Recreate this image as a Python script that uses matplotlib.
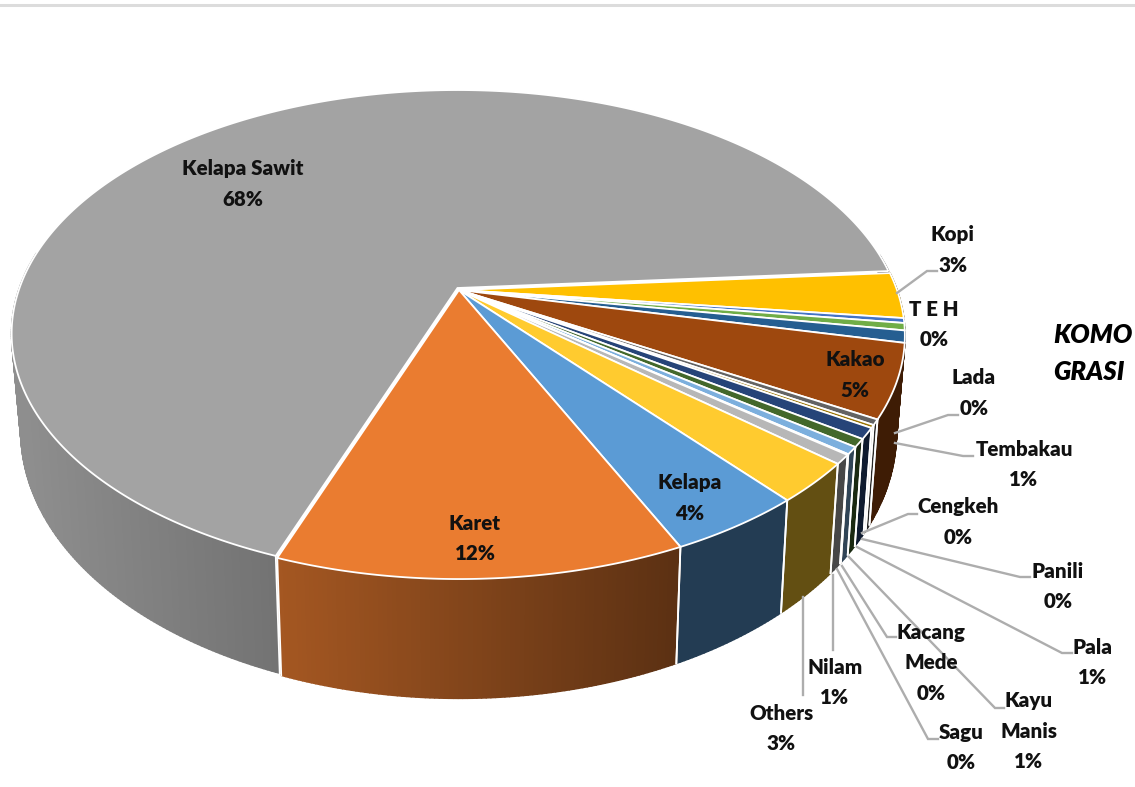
import numpy as np
import matplotlib
matplotlib.use('Agg')
import matplotlib.pyplot as plt
from matplotlib.collections import PolyCollection
from matplotlib.patches import Polygon

# Area share per commodity, clockwise from the big slice
names = ['Kelapa Sawit', 'Kopi', 'T E H', 'Lada', 'Tembakau', 'Kakao', 'Cengkeh', 'Panili',
         'Pala', 'Kayu\nManis', 'Kacang\nMede', 'Sagu', 'Nilam', 'Others', 'Kelapa', 'Karet']
shares = [68.28, 3.03, 0.32, 0.48, 0.80, 4.86, 0.36, 0.19,
          0.72, 0.53, 0.48, 0.05, 0.61, 2.64, 4.20, 12.45]
colors = ['#A3A3A3', '#FFC000', '#4472C4', '#70AD47', '#255E91', '#9E480E', '#636363', '#997300',
          '#264478', '#43682B', '#7CAFDD', '#F1975A', '#B7B7B7', '#FFCB2F', '#5B9BD5', '#EA7C30']

# Label centres (first line) in pixels, same order as names
label_xy = [(243, 169), (953, 235), (934, 309), (974, 378), (1024, 449), (855, 360), (958, 507),
            (1058, 571), (1093, 647), (1029, 701), (931, 632), (961, 732), (835, 667), (781, 713),
            (690, 483), (475, 523)]

# Leader lines, None where the label sits on the slice
leaders = [None,
           [(897, 293), (927, 271), (937, 271)],
           None,
           [(895, 433), (948, 415), (958, 415)],
           [(895, 443), (963, 456), (973, 456)],
           None,
           [(862, 533), (908, 514), (917, 514)],
           [(862, 539), (1020, 577), (1030, 577)],
           [(857, 547), (1062, 653), (1072, 653)],
           [(849, 557), (995, 708), (1004, 708)],
           [(842, 566), (887, 637), (896, 637)],
           [(837, 569), (928, 739), (938, 739)],
           [(833, 575), (833, 650)],
           [(803, 597), (803, 695)],
           None, None]

# Perspective of the pie disc
CX, CY = 459, 290
A, B, K = 438, 235, 0.187
START = 110.0
EXPLODE = 2.5
LINE_H = 30.5
FONT = 'Lato'


def rim(t, cx=CX, cy=CY):
    t = np.radians(t)
    d = 1 - K * np.sin(t)
    return cx + A * np.cos(t) / d, cy + B * np.sin(t) / d


def lower(x, y):
    # The bottom of the pie, seen at a steeper angle than the top
    return 475 + 0.98 * (np.asarray(x) - 475), 1.088 * np.asarray(y) + 68.3


def shade(hex_color, x):
    f = np.interp(x, [25, 280, 680], [0.87, 0.70, 0.39])
    return tuple(np.array(matplotlib.colors.to_rgb(hex_color)) * f)


fig = plt.figure(figsize=(11.35, 7.87), dpi=100)
ax = fig.add_axes([0, 0, 1, 1])
ax.set_xlim(0, 1135)
ax.set_ylim(787, 0)
ax.axis('off')

# Rule at the top of the slide
ax.plot([0, 1135], [5, 5], color='#dcdcdc', lw=2.2)

edges = START + 360 * np.concatenate([[0], np.cumsum(shares)]) / np.sum(shares)

# Side walls first, the top faces cover whatever is behind them
tops = []
for i, name in enumerate(names):
    t = np.linspace(edges[i], edges[i + 1], max(int((edges[i + 1] - edges[i]) * 2), 3))
    cx, cy = CX, CY
    if i == 0:
        # Big slice is pulled out a little along its middle direction
        mid = np.radians((edges[0] + edges[1]) / 2)
        cx, cy = CX + EXPLODE * np.cos(mid), CY + EXPLODE * np.sin(mid)
    x, y = rim(t, cx, cy)
    xb, yb = lower(x, y)
    quads = []
    fc = []
    for j in range(len(t) - 1):
        # Only the front of the wall can be seen
        if np.sin(np.radians(t[j])) < -0.15:
            continue
        quads.append([(x[j], y[j]), (x[j + 1], y[j + 1]), (xb[j + 1], yb[j + 1]), (xb[j], yb[j])])
        fc.append(shade(colors[i], (x[j] + x[j + 1]) / 2))
    ax.add_collection(PolyCollection(quads, facecolors=fc, edgecolors=fc, linewidths=1.2, zorder=2))
    tops.append(Polygon(np.vstack([[cx, cy], np.column_stack([x, y])]), closed=True,
                        facecolor=colors[i], edgecolor='white', linewidth=1.3, zorder=4))
    # White seams down the front of the wall, the ones further round are out of sight
    for e in [t[0], t[-1]]:
        if 25 < e % 360 < 180:
            ex, ey = rim(e, cx, cy)
            bx, by = lower(ex, ey)
            ax.plot([ex, bx], [ey, by], color='white', lw=1.3, zorder=3)

for p in tops:
    ax.add_patch(p)

for path in leaders:
    if path is not None:
        xs, ys = zip(*path)
        ax.plot(xs, ys, color='#adadad', lw=1.7, zorder=5, solid_joinstyle='miter')

total = np.sum(shares)
for name, share, (lx, ly) in zip(names, shares, label_xy):
    rows = name.split('\n') + ['%d%%' % round(share / total * 100)]
    for r, row in enumerate(rows):
        ax.text(lx, ly + r * LINE_H, row, ha='center', va='center', fontsize=14.8,
                fontweight='heavy', family=FONT, color='#111111', zorder=6)

# Side caption at the slide edge
ax.text(1053, 335, 'KOMO', ha='left', va='center', fontsize=18.5, fontweight='heavy', style='italic',
        family=FONT, color='black', zorder=6)
ax.text(1053, 372, 'GRASI', ha='left', va='center', fontsize=18.5, fontweight='heavy', style='italic',
        family=FONT, color='black', zorder=6)

fig.savefig('out.png', dpi=100)
